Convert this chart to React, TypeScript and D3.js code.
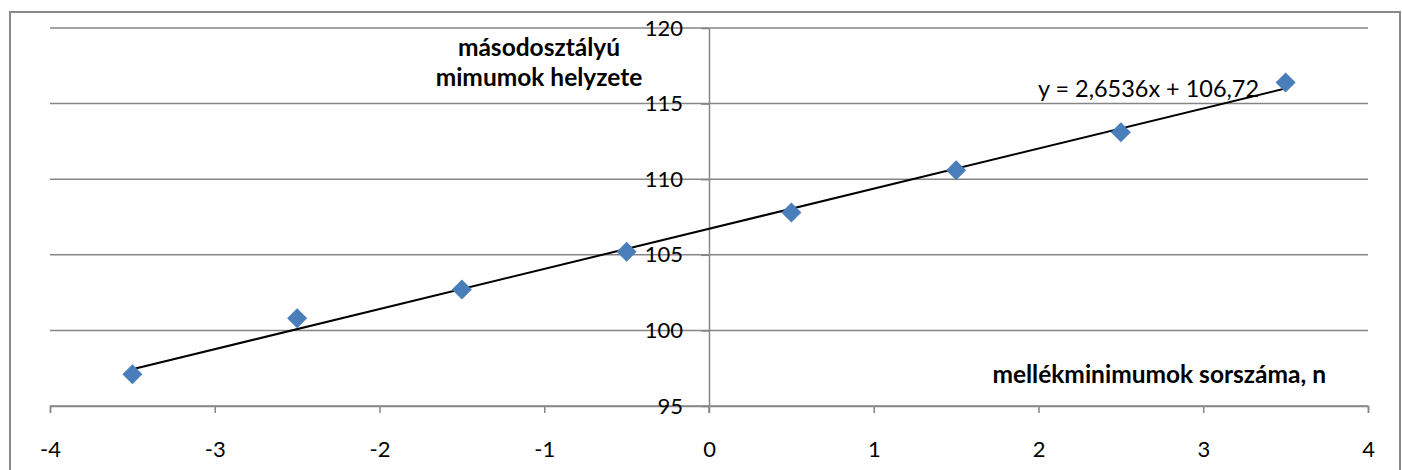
import { useEffect, useRef } from "react";
import * as d3 from "d3";

// mellékminimumok sorszáma (n) és a másodosztályú minimumok helyzete
const nValues = [-3.5, -2.5, -1.5, -0.5, 0.5, 1.5, 2.5, 3.5];
const positions = [97.1, 100.8, 102.7, 105.2, 107.8, 110.6, 113.1, 116.4];
const xTicks = [-4, -3, -2, -1, 0, 1, 2, 3, 4];
const yTicks = [95, 100, 105, 110, 115, 120];
const slope = 2.6536;
const intercept = 106.72;
const trendLabel = "y = 2,6536x + 106,72";

const App: React.FC = () => {
  const svgRef = useRef<SVGSVGElement | null>(null);

  useEffect(() => {
    if (!svgRef.current) return;
    const svg = d3.select(svgRef.current);
    svg.selectAll("*").remove();

    const font = "Lato, 'Open Sans', sans-serif";
    const grid = "#868686";

    const x = d3.scaleLinear().domain([-4, 4]).range([50, 1368]);
    const y = d3.scaleLinear().domain([95, 120]).range([406, 28]);

    // chart frame
    svg.append("rect")
      .attr("x", 10).attr("y", 12)
      .attr("width", 1390).attr("height", 470)
      .attr("fill", "white")
      .attr("stroke", "#898989").attr("stroke-width", 2);

    // horizontal gridlines
    svg.append("g")
      .selectAll("line")
      .data(yTicks)
      .enter().append("line")
      .attr("x1", x(-4)).attr("x2", x(4))
      .attr("y1", d => y(d)).attr("y2", d => y(d))
      .attr("stroke", grid).attr("stroke-width", 1.5);

    // x axis (ticks down)
    const xAxis = svg.append("g")
      .attr("transform", `translate(0,${y(95)})`)
      .call(d3.axisBottom(x).tickValues(xTicks).tickSize(7)
        .tickFormat(d => String(d)));
    xAxis.select(".domain").attr("stroke", grid).attr("stroke-width", 1.5);
    xAxis.selectAll(".tick line").attr("stroke", grid).attr("stroke-width", 1.5);
    xAxis.selectAll("text")
      .attr("y", 51).attr("dy", null)
      .attr("font-family", font).attr("font-size", 22).attr("fill", "black");

    // y axis at x = 0
    const yAxis = svg.append("g")
      .attr("transform", `translate(${x(0)},0)`)
      .call(d3.axisLeft(y).tickValues(yTicks).tickSize(8).tickSizeOuter(0)
        .tickFormat(d => String(d)));
    yAxis.select(".domain").attr("stroke", grid).attr("stroke-width", 1.5);
    yAxis.selectAll(".tick line").attr("stroke", grid).attr("stroke-width", 1.5);
    yAxis.selectAll("text")
      .attr("x", -26).attr("y", 7).attr("dy", null)
      .attr("font-family", font).attr("font-size", 22).attr("fill", "black");
    yAxis.append("line")
      .attr("x1", 0).attr("x2", 0)
      .attr("y1", y(95)).attr("y2", y(95) + 7)
      .attr("stroke", grid).attr("stroke-width", 1.5);

    // linear trendline
    svg.append("line")
      .attr("x1", x(nValues[0])).attr("y1", y(slope * nValues[0] + intercept))
      .attr("x2", x(nValues[nValues.length - 1]))
      .attr("y2", y(slope * nValues[nValues.length - 1] + intercept))
      .attr("stroke", "black").attr("stroke-width", 2);

    // markers
    const diamond = d3.symbol().type(d3.symbolDiamond2).size(255);
    svg.append("g")
      .selectAll("path")
      .data(nValues)
      .enter().append("path")
      .attr("d", diamond)
      .attr("transform", (d, i) => `translate(${x(d)},${y(positions[i])})`)
      .attr("fill", "#4a7ebb");

    // trendline equation
    svg.append("text")
      .attr("x", 1038).attr("y", 97)
      .attr("font-family", font).attr("font-size", 23)
      .attr("textLength", 221).attr("lengthAdjust", "spacingAndGlyphs")
      .text(trendLabel);

    // axis titles
    const yTitle = svg.append("text")
      .attr("font-family", font).attr("font-size", 24.5).attr("font-weight", "bold")
      .attr("text-anchor", "middle");
    yTitle.append("tspan").attr("x", 539).attr("y", 56).text("másodosztályú");
    yTitle.append("tspan").attr("x", 539).attr("y", 86).text("mimumok helyzete");

    svg.append("text")
      .attr("x", 1326).attr("y", 383)
      .attr("text-anchor", "end")
      .attr("font-family", font).attr("font-size", 24.5).attr("font-weight", "bold")
      .text("mellékminimumok sorszáma, n");
  }, []);

  return (
    <svg ref={svgRef} width={1402} height={470}
      style={{ position: "absolute", left: 0, top: 0, background: "white" }} />
  );
};

export default App;
